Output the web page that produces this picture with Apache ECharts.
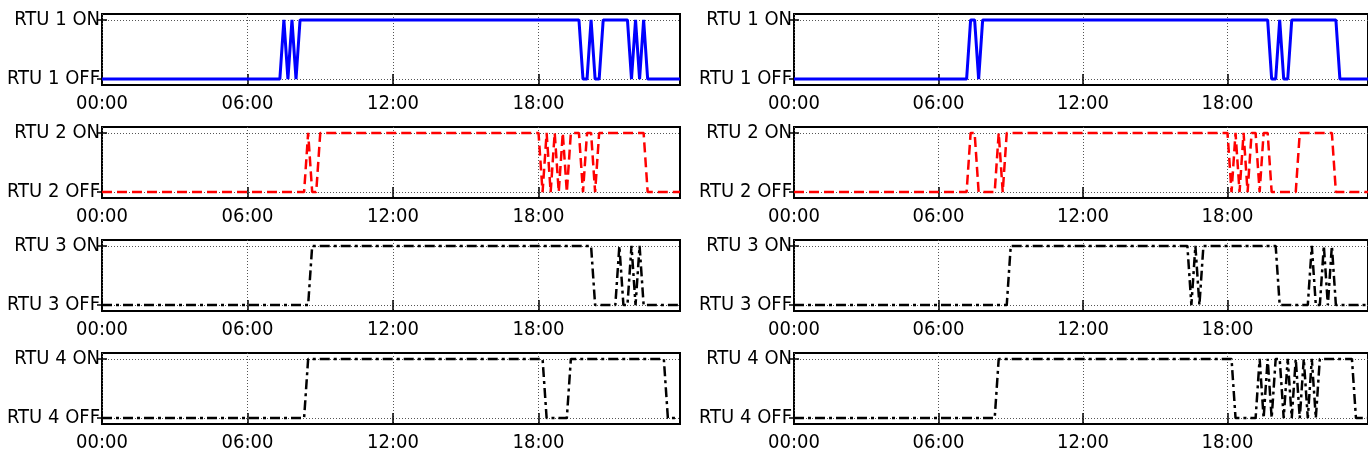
<!DOCTYPE html>
<html><head><meta charset="utf-8">
<script src="https://cdn.jsdelivr.net/npm/echarts@6/dist/echarts.min.js"></script>
<style>html,body{margin:0;padding:0;background:#fff}#c{width:1368px;height:465px}</style>
</head><body><div id="c"></div>
<script>
// 10-minute samples, 00:00 .. 23:50
const timeMinutes = [];
for (let m = 0; m <= 1430; m += 10) timeMinutes.push(m);
const xTickMinutes = [0, 360, 720, 1080];
const stateValues = [0, 1];
const rtuNames = ['RTU 1', 'RTU 2', 'RTU 3', 'RTU 4'];

// Left day
const leftRTU1 = [
0,0,0,0,0,0,0,0,0,0,0,0, 0,0,0,0,0,0,0,0,0,0,0,0, 0,0,0,0,0,0,0,0,0,0,0,0,
0,0,0,0,0,0,0,0,0,1,0,1, 0,1,1,1,1,1,1,1,1,1,1,1, 1,1,1,1,1,1,1,1,1,1,1,1,
1,1,1,1,1,1,1,1,1,1,1,1, 1,1,1,1,1,1,1,1,1,1,1,1, 1,1,1,1,1,1,1,1,1,1,1,1,
1,1,1,1,1,1,1,1,1,1,1,0, 0,1,0,0,1,1,1,1,1,1,1,0, 1,0,1,0,0,0,0,0,0,0,0,0];
const leftRTU2 = [
0,0,0,0,0,0,0,0,0,0,0,0, 0,0,0,0,0,0,0,0,0,0,0,0, 0,0,0,0,0,0,0,0,0,0,0,0,
0,0,0,0,0,0,0,0,0,0,0,0, 0,0,0,1,0,0,1,1,1,1,1,1, 1,1,1,1,1,1,1,1,1,1,1,1,
1,1,1,1,1,1,1,1,1,1,1,1, 1,1,1,1,1,1,1,1,1,1,1,1, 1,1,1,1,1,1,1,1,1,1,1,1,
1,0,1,0,1,0,1,0,1,1,1,0, 1,1,0,1,1,1,1,1,1,1,1,1, 1,1,1,0,0,0,0,0,0,0,0,0];
const leftRTU3 = [
0,0,0,0,0,0,0,0,0,0,0,0, 0,0,0,0,0,0,0,0,0,0,0,0, 0,0,0,0,0,0,0,0,0,0,0,0,
0,0,0,0,0,0,0,0,0,0,0,0, 0,0,0,0,1,1,1,1,1,1,1,1, 1,1,1,1,1,1,1,1,1,1,1,1,
1,1,1,1,1,1,1,1,1,1,1,1, 1,1,1,1,1,1,1,1,1,1,1,1, 1,1,1,1,1,1,1,1,1,1,1,1,
1,1,1,1,1,1,1,1,1,1,1,1, 1,1,0,0,0,0,0,0,1,0,0,1, 0,1,0,0,0,0,0,0,0,0,0,0];
const leftRTU4 = [
0,0,0,0,0,0,0,0,0,0,0,0, 0,0,0,0,0,0,0,0,0,0,0,0, 0,0,0,0,0,0,0,0,0,0,0,0,
0,0,0,0,0,0,0,0,0,0,0,0, 0,0,0,1,1,1,1,1,1,1,1,1, 1,1,1,1,1,1,1,1,1,1,1,1,
1,1,1,1,1,1,1,1,1,1,1,1, 1,1,1,1,1,1,1,1,1,1,1,1, 1,1,1,1,1,1,1,1,1,1,1,1,
1,1,0,0,0,0,0,0,1,1,1,1, 1,1,1,1,1,1,1,1,1,1,1,1, 1,1,1,1,1,1,1,1,0,0,0,0];

// Right day
const rightRTU1 = [
0,0,0,0,0,0,0,0,0,0,0,0, 0,0,0,0,0,0,0,0,0,0,0,0, 0,0,0,0,0,0,0,0,0,0,0,0,
0,0,0,0,0,0,0,0,1,1,0,1, 1,1,1,1,1,1,1,1,1,1,1,1, 1,1,1,1,1,1,1,1,1,1,1,1,
1,1,1,1,1,1,1,1,1,1,1,1, 1,1,1,1,1,1,1,1,1,1,1,1, 1,1,1,1,1,1,1,1,1,1,1,1,
1,1,1,1,1,1,1,1,1,1,1,0, 0,1,0,0,1,1,1,1,1,1,1,1, 1,1,1,1,0,0,0,0,0,0,0,0];
const rightRTU2 = [
0,0,0,0,0,0,0,0,0,0,0,0, 0,0,0,0,0,0,0,0,0,0,0,0, 0,0,0,0,0,0,0,0,0,0,0,0,
0,0,0,0,0,0,0,0,1,1,0,0, 0,0,0,1,0,1,1,1,1,1,1,1, 1,1,1,1,1,1,1,1,1,1,1,1,
1,1,1,1,1,1,1,1,1,1,1,1, 1,1,1,1,1,1,1,1,1,1,1,1, 1,1,1,1,1,1,1,1,1,1,1,1,
1,0,1,0,1,0,1,1,0,1,1,0, 0,0,0,0,0,0,1,1,1,1,1,1, 1,1,1,0,0,0,0,0,0,0,0,0];
const rightRTU3 = [
0,0,0,0,0,0,0,0,0,0,0,0, 0,0,0,0,0,0,0,0,0,0,0,0, 0,0,0,0,0,0,0,0,0,0,0,0,
0,0,0,0,0,0,0,0,0,0,0,0, 0,0,0,0,0,0,1,1,1,1,1,1, 1,1,1,1,1,1,1,1,1,1,1,1,
1,1,1,1,1,1,1,1,1,1,1,1, 1,1,1,1,1,1,1,1,1,1,1,1, 1,1,1,0,1,0,1,1,1,1,1,1,
1,1,1,1,1,1,1,1,1,1,1,1, 1,0,0,0,0,0,0,0,0,1,0,0, 1,0,1,0,0,0,0,0,0,0,0,0];
const rightRTU4 = [
0,0,0,0,0,0,0,0,0,0,0,0, 0,0,0,0,0,0,0,0,0,0,0,0, 0,0,0,0,0,0,0,0,0,0,0,0,
0,0,0,0,0,0,0,0,0,0,0,0, 0,0,0,1,1,1,1,1,1,1,1,1, 1,1,1,1,1,1,1,1,1,1,1,1,
1,1,1,1,1,1,1,1,1,1,1,1, 1,1,1,1,1,1,1,1,1,1,1,1, 1,1,1,1,1,1,1,1,1,1,1,1,
1,1,0,0,0,0,0,0,1,0,1,0, 1,1,0,1,0,1,0,1,0,1,0,1, 1,1,1,1,1,1,1,1,0,0,0,0];

const columns = [
  [leftRTU1, leftRTU2, leftRTU3, leftRTU4],
  [rightRTU1, rightRTU2, rightRTU3, rightRTU4]
];

const FONT = '"Liberation Sans Narrow", "Arial Narrow", "DejaVu Sans Condensed", sans-serif';
const colLeft = [102, 794];
const colWidth = [578, 577];
const rowTop = [14, 127, 240, 353];
const rowHeight = 71;
const lineStyles = [
  { color: '#0000ff', width: 3, type: 'solid' },
  { color: '#ff0000', width: 2.5, type: [10, 5] },
  { color: '#000000', width: 2.5, type: [10, 4, 3, 4] },
  { color: '#000000', width: 2.5, type: [10, 4, 3, 4] }
];

function hhmm(v) {
  const h = Math.floor(v / 60), m = v % 60;
  return String(h).padStart(2, '0') + ':' + String(m).padStart(2, '0');
}

const grid = [], xAxis = [], yAxis = [], series = [];
const tickStyle = { color: '#000', width: 1.5 };
const gridLineStyle = { color: '#555', width: 1, type: [1, 2] };

columns.forEach((col, c) => {
  col.forEach((vals, r) => {
    const gi = grid.length;
    grid.push({ left: colLeft[c], top: rowTop[r], width: colWidth[c], height: rowHeight,
      show: true, borderColor: '#000', borderWidth: 2, containLabel: false });
    const name = rtuNames[r];
    xAxis.push({ gridIndex: gi, type: 'value', min: 0, max: 1430, position: 'bottom',
      axisLine: { show: false },
      axisTick: { show: true, inside: true, length: 5, customValues: xTickMinutes, lineStyle: tickStyle },
      axisLabel: { show: true, customValues: xTickMinutes, formatter: hhmm, margin: 9,
        fontSize: 20, fontFamily: FONT, color: '#000' },
      splitLine: { show: true, lineStyle: gridLineStyle } });
    xAxis.push({ gridIndex: gi, type: 'value', min: 0, max: 1430, position: 'top',
      axisLine: { show: false },
      axisTick: { show: true, inside: true, length: 5, customValues: xTickMinutes, lineStyle: tickStyle },
      axisLabel: { show: false }, splitLine: { show: false } });
    yAxis.push({ gridIndex: gi, type: 'value', min: -0.1, max: 1.1, position: 'left',
      axisLine: { show: false },
      axisTick: { show: true, inside: true, length: 5, customValues: stateValues, lineStyle: tickStyle },
      axisLabel: { show: true, customValues: stateValues, margin: 2, fontSize: 20, fontFamily: FONT, color: '#000',
        formatter: v => (v === 1 ? name + ' ON' : (v === 0 ? name + ' OFF' : '')) },
      splitLine: { show: true, lineStyle: gridLineStyle } });
    yAxis.push({ gridIndex: gi, type: 'value', min: -0.1, max: 1.1, position: 'right',
      axisLine: { show: false },
      axisTick: { show: true, inside: true, length: 5, customValues: stateValues, lineStyle: tickStyle },
      axisLabel: { show: false }, splitLine: { show: false } });
    series.push({ type: 'line', xAxisIndex: gi * 2, yAxisIndex: gi * 2,
      data: timeMinutes.map((t, i) => [t, vals[i]]),
      showSymbol: false, symbol: 'none', silent: true, z: 3,
      lineStyle: lineStyles[r] });
  });
});

const chart = echarts.init(document.getElementById('c'), null, { renderer: 'canvas' });
chart.setOption({ animation: false, backgroundColor: '#fff', grid, xAxis, yAxis, series });
</script>
</body></html>
